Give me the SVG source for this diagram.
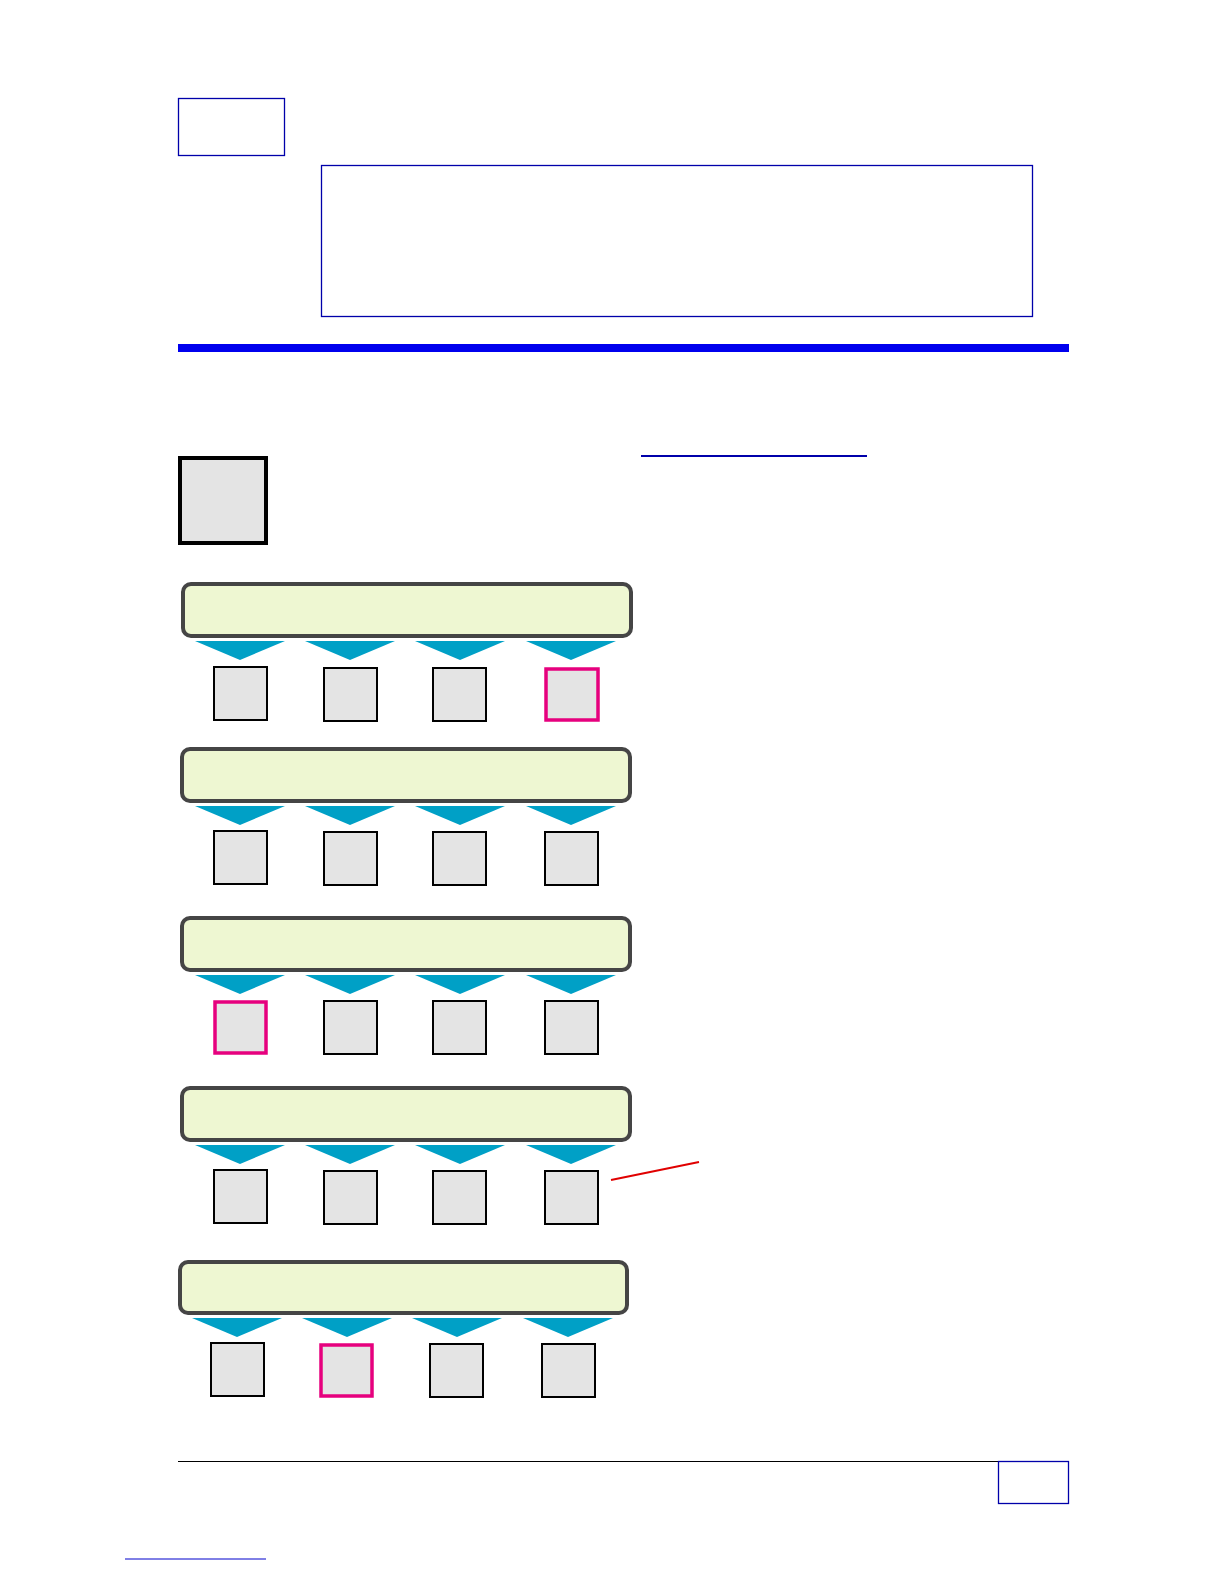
<svg xmlns="http://www.w3.org/2000/svg" width="1224" height="1584" viewBox="0 0 1224 1584">
<style>
.bluebox{fill:#fff;stroke:#0000aa;stroke-width:1.3}
.bar{fill:#eef7d2;stroke:#454545;stroke-width:4}
.tri{fill:#00a0c6}
.sq{fill:#e4e4e4;stroke:#000;stroke-width:2}
.pk{fill:#e4e4e4;stroke:#e6007e;stroke-width:3.5}
</style>
<defs>
<polygon id="t" class="tri" points="-45,0 45,0 0,19"/>
</defs>
<rect width="1224" height="1584" fill="#fff"/>
<g id="header">
<rect id="tag" class="bluebox" x="178.5" y="98.5" width="106" height="57"/>
<rect id="panel" class="bluebox" x="321.5" y="165.5" width="711" height="151"/>
<rect id="rule" x="178" y="344" width="891" height="8" fill="#0000ee"/>
<line id="link" x1="641" y1="456" x2="867" y2="456" stroke="#0000aa" stroke-width="2"/>
<rect id="icon" x="180" y="458" width="86" height="85" fill="#e4e4e4" stroke="#000" stroke-width="4"/>
</g>
<g id="row1">
<rect class="bar" x="183" y="584" width="448" height="52" rx="8"/>
<use href="#t" x="240" y="641"/><use href="#t" x="350" y="641"/><use href="#t" x="460" y="641"/><use href="#t" x="571" y="641"/>
<rect class="sq" x="214" y="667" width="53" height="53"/>
<rect class="sq" x="324" y="668" width="53" height="53"/>
<rect class="sq" x="433" y="668" width="53" height="53"/>
<rect class="pk" x="546" y="669" width="52" height="51"/>
</g>
<g id="row2">
<rect class="bar" x="182" y="749" width="448" height="52" rx="8"/>
<use href="#t" x="240" y="806"/><use href="#t" x="350" y="806"/><use href="#t" x="460" y="806"/><use href="#t" x="571" y="806"/>
<rect class="sq" x="214" y="831" width="53" height="53"/>
<rect class="sq" x="324" y="832" width="53" height="53"/>
<rect class="sq" x="433" y="832" width="53" height="53"/>
<rect class="sq" x="545" y="832" width="53" height="53"/>
</g>
<g id="row3">
<rect class="bar" x="182" y="918" width="448" height="52" rx="8"/>
<use href="#t" x="240" y="975"/><use href="#t" x="350" y="975"/><use href="#t" x="460" y="975"/><use href="#t" x="571" y="975"/>
<rect class="pk" x="215" y="1002" width="51" height="51"/>
<rect class="sq" x="324" y="1001" width="53" height="53"/>
<rect class="sq" x="433" y="1001" width="53" height="53"/>
<rect class="sq" x="545" y="1001" width="53" height="53"/>
</g>
<g id="row4">
<rect class="bar" x="182" y="1088" width="448" height="52" rx="8"/>
<use href="#t" x="240" y="1145"/><use href="#t" x="350" y="1145"/><use href="#t" x="460" y="1145"/><use href="#t" x="571" y="1145"/>
<rect class="sq" x="214" y="1170" width="53" height="53"/>
<rect class="sq" x="324" y="1171" width="53" height="53"/>
<rect class="sq" x="433" y="1171" width="53" height="53"/>
<rect class="sq" x="545" y="1171" width="53" height="53"/>
</g>
<g id="row5">
<rect class="bar" x="180" y="1262" width="447" height="51" rx="8"/>
<use href="#t" x="237" y="1318"/><use href="#t" x="347" y="1318"/><use href="#t" x="457" y="1318"/><use href="#t" x="568" y="1318"/>
<rect class="sq" x="211" y="1343" width="53" height="53"/>
<rect class="pk" x="321" y="1345" width="51" height="51"/>
<rect class="sq" x="430" y="1344" width="53" height="53"/>
<rect class="sq" x="542" y="1344" width="53" height="53"/>
</g>
<g id="connectors">
<line x1="611" y1="1180" x2="699" y2="1162" stroke="#e00000" stroke-width="2"/>
</g>
<g id="footer">
<line x1="178" y1="1461.5" x2="1069" y2="1461.5" stroke="#000" stroke-width="1"/>
<rect id="pagebox" class="bluebox" x="998.5" y="1461.5" width="70" height="42"/>
<line x1="125" y1="1559" x2="266" y2="1559" stroke="#0000cc" stroke-width="1"/>
</g>
</svg>
